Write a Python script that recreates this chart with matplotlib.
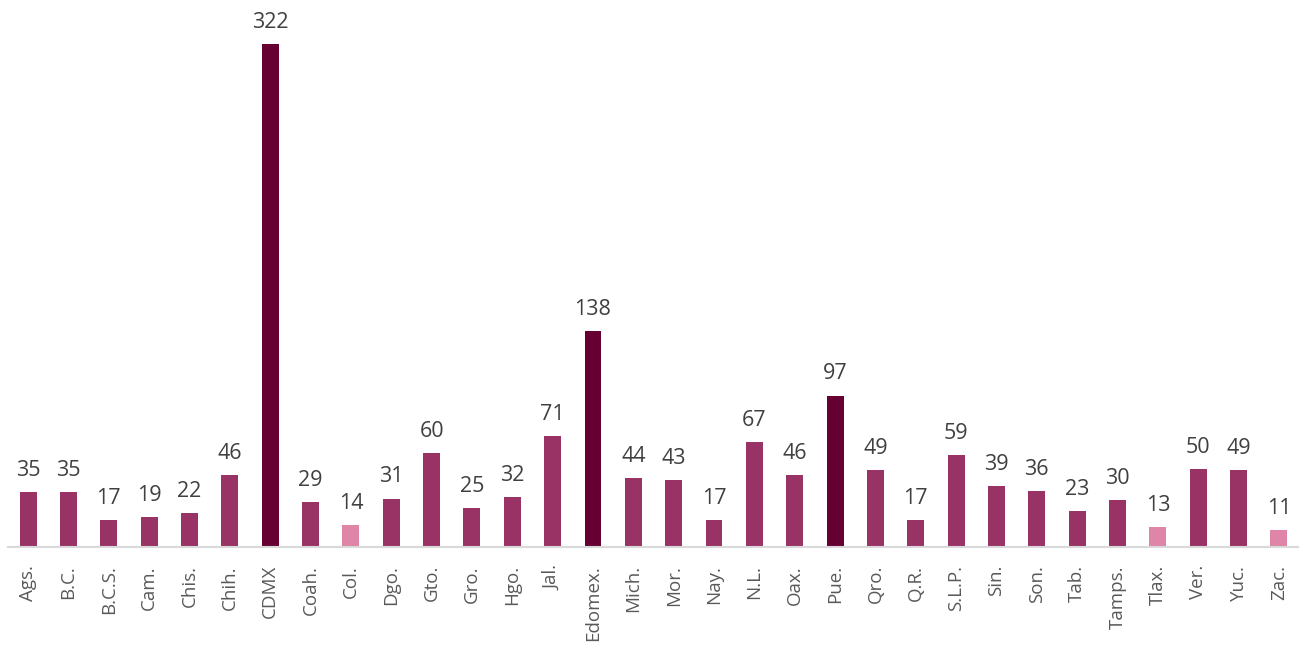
import matplotlib
matplotlib.use("Agg")
import matplotlib.pyplot as plt

states = ["Ags.", "B.C.", "B.C.S.", "Cam.", "Chis.", "Chih.", "CDMX", "Coah.", "Col.", "Dgo.",
          "Gto.", "Gro.", "Hgo.", "Jal.", "Edomex.", "Mich.", "Mor.", "Nay.", "N.L.", "Oax.",
          "Pue.", "Qro.", "Q.R.", "S.L.P.", "Sin.", "Son.", "Tab.", "Tamps.", "Tlax.", "Ver.",
          "Yuc.", "Zac."]
values = [35, 35, 17, 19, 22, 46, 322, 29, 14, 31,
          60, 25, 32, 71, 138, 44, 43, 17, 67, 46,
          97, 49, 17, 59, 39, 36, 23, 30, 13, 50,
          49, 11]
high = {"CDMX", "Edomex.", "Pue."}
low = {"Col.", "Tlax.", "Zac."}

c_high = "#660033"
c_mid = "#993366"
c_low = "#DE85A8"
colors = [c_high if s in high else (c_low if s in low else c_mid) for s in states]

plt.rcParams['font.family'] = ['Open Sans', 'DejaVu Sans']

fig = plt.figure(figsize=(12.99, 6.46), dpi=100)
W, H = 1299, 646
ax = fig.add_axes([8 / W, 99 / H, (1299 - 8) / W, (547 - 16) / H])

x = list(range(len(states)))
ax.bar(x, values, width=0.42, color=colors, zorder=2)
for xi, v in zip(x, values):
    ax.annotate(str(v), (xi, v), xytext=(0, 8), textcoords="offset points",
                ha="center", va="bottom", fontsize=15.5, color="#404040",
                annotation_clip=False)

ax.set_xlim(-0.5, len(states) - 0.5)
ax.set_ylim(0, 340)
ax.set_xticks(x)
ax.set_xticklabels(states, rotation=90, fontsize=13.5, color="#595959")
ax.tick_params(axis="x", length=0, pad=13)
ax.set_yticks([])
for sp in ["top", "right", "left"]:
    ax.spines[sp].set_visible(False)
ax.spines["bottom"].set_color("#D9D9D9")
ax.spines["bottom"].set_linewidth(1.5)

fig.savefig("out.png", dpi=100)
